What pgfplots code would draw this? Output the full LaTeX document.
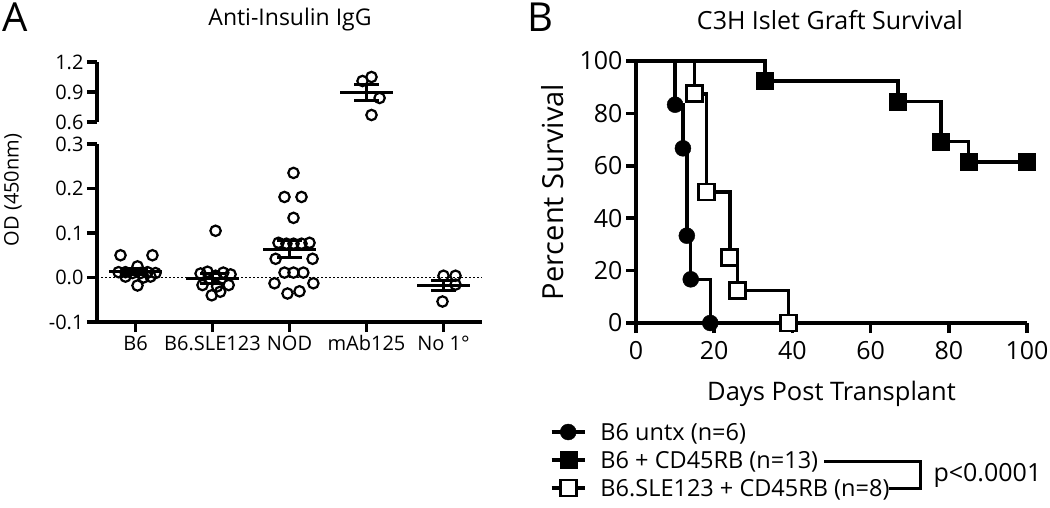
\documentclass[border=0pt]{standalone}
\usepackage{fontspec}
\setmainfont{Open Sans}
\usepackage{pgfplots}
\pgfplotsset{compat=1.18}
\newcommand{\fs}[1]{\fontsize{#1}{#1}\selectfont}
\begin{document}
\begin{tikzpicture}
\useasboundingbox (0pt,0pt) rectangle (1050pt,-508pt);
\pgfplotsset{
  common/.style={
    scale only axis, clip=false,
    axis line style={-, line width=3.5pt, black},
    tick style={line width=3.5pt, black},
    major tick length=10pt, tick align=outside,
    /pgf/number format/assume math mode=true,
  },
  dot/.style={black, only marks, mark=o, mark size=5.2pt, mark options={line width=2.2pt}},
  msem/.style={black, line width=3pt, unbounded coords=jump},
}
% ---------- Panel A, lower part ----------
\begin{axis}[common,
  at={(97pt,-322pt)}, anchor=south west, width=385pt, height=178pt,
  xmin=0.5, xmax=5.5, ymin=-0.1, ymax=0.3,
  axis x line*=bottom, axis y line*=left,
  xtick={1,2,3,4,5}, xticklabels={B6,B6.SLE123,NOD,mAb125,No 1°},
  ytick={-0.1,0,0.1,0.2,0.3}, yticklabels={-0.1,0.0,0.1,0.2,0.3},
  ticklabel style={font=\fs{20}},
]
\addplot[black, line width=1.5pt, dash pattern=on 2pt off 2pt] coordinates {(0.5,0) (5.5,0)};
\addplot[dot] coordinates {(0.805,0.050) (1.22,0.050) (1.026,0.025) (0.78,0.012) (0.87,0.012) (0.96,0.010) (1.065,0.010) (1.156,0.012) (1.26,0.010) (0.87,0.002) (1.104,0.000) (1.195,0.002) (1.026,-0.018)};
\addplot[dot] coordinates {(2.04,0.105) (1.845,0.009) (1.935,0.013) (2.04,0.004) (2.14,0.011) (2.235,0.007) (1.87,-0.017) (2.06,-0.020) (2.21,-0.017) (1.99,-0.040) (2.10,-0.032)};
\addplot[dot] coordinates {(3.052,0.235) (2.935,0.181) (3.156,0.181) (3.052,0.134) (2.857,0.078) (2.96,0.076) (3.052,0.076) (3.156,0.076) (3.26,0.078) (2.82,0.042) (3.30,0.042) (2.935,0.011) (3.052,0.011) (3.18,0.011) (2.805,-0.013) (3.31,-0.013) (2.974,-0.036) (3.13,-0.031)};
\addplot[dot] coordinates {(5.0,0.004) (5.156,0.004) (5.156,-0.016) (4.987,-0.054)};
% mean and SEM
\addplot[msem] coordinates {
 (0.66,0.013) (1.34,0.013) (1,nan) (0.84,0.020) (1.16,0.020) (1,nan) (0.84,0.006) (1.16,0.006) (1,nan) (1,0.006) (1,0.020) (1,nan)
 (1.66,-0.003) (2.34,-0.003) (2,nan) (1.84,0.008) (2.16,0.008) (2,nan) (1.84,-0.014) (2.16,-0.014) (2,nan) (2,-0.014) (2,0.008) (2,nan)
 (2.66,0.064) (3.34,0.064) (3,nan) (2.84,0.083) (3.16,0.083) (3,nan) (2.84,0.045) (3.16,0.045) (3,nan) (3,0.045) (3,0.083) (3,nan)
 (4.66,-0.018) (5.34,-0.018) (5,nan) (4.84,-0.006) (5.16,-0.006) (5,nan) (4.84,-0.030) (5.16,-0.030) (5,nan) (5,-0.030) (5,-0.006)
};
\end{axis}
% ---------- Panel A, upper part ----------
\begin{axis}[common,
  at={(97pt,-122pt)}, anchor=south west, width=385pt, height=60pt,
  xmin=0.5, xmax=5.5, ymin=0.6, ymax=1.2,
  axis y line*=left, axis x line=none,
  xtick=\empty, ytick={0.6,0.9,1.2}, yticklabels={0.6,0.9,1.2},
  ticklabel style={font=\fs{20}},
]
\addplot[dot] coordinates {(4.065,1.05) (3.948,1.01) (4.17,0.84) (4.065,0.67)};
\addplot[msem] coordinates {
 (3.66,0.893) (4.34,0.893) (4,nan) (3.84,0.975) (4.16,0.975) (4,nan) (3.84,0.815) (4.16,0.815) (4,nan) (4,0.815) (4,0.975)
};
\end{axis}
\node[font=\fs{40}] at (15pt,-17pt) {A};
\node[font=\fs{23}] at (290pt,-20pt) {Anti-Insulin IgG};
\node[font=\fs{20}, rotate=90] at (13pt,-190pt) {OD (450nm)};
% ---------- Panel B ----------
\begin{axis}[common,
  at={(636pt,-323pt)}, anchor=south west, width=391pt, height=262pt,
  xmin=0, xmax=100, ymin=0, ymax=100,
  axis x line*=bottom, axis y line*=left,
  xtick={0,20,40,60,80,100}, ytick={0,20,40,60,80,100},
  ticklabel style={font=\fs{25}},
  xticklabel style={yshift=-5pt},
  xlabel={Days Post Transplant}, ylabel={Percent Survival},
  xlabel style={font=\fs{25.5}, yshift=-14pt},
  ylabel style={font=\fs{29}, yshift=9pt},
  legend style={at={(-0.22,-0.376)}, anchor=north west, draw=none, fill=none,
    font=\fs{23.5}, row sep=7pt, inner sep=0pt, outer sep=0pt,
    nodes={inner sep=0pt, text height=19pt, text depth=2pt},
    /tikz/every odd column/.append style={column sep=14pt}},
  legend cell align=left,
  legend image code/.code={%
     \draw[black, line width=3.5pt] (0pt,0pt) -- (33pt,0pt);
     \draw[#1] plot coordinates {(16.5pt,0pt)};},
]
\addplot[black, const plot mark left, line width=3.5pt, forget plot] coordinates {(0,100) (10,83.33) (12,66.67) (13,33.33) (14,16.67) (19,0)};
\addplot[black, only marks, mark=*, mark size=8pt] coordinates {(10,83.33) (12,66.67) (13,33.33) (14,16.67) (19,0)};
\addlegendentry{B6 untx (n=6)}
\addplot[black, const plot mark left, line width=3.5pt, forget plot] coordinates {(0,100) (33,92.31) (67,84.62) (78,69.23) (85,61.54) (100,61.54)};
\addplot[black, only marks, mark=square*, mark size=8.5pt] coordinates {(33,92.31) (67,84.62) (78,69.23) (85,61.54) (100,61.54)};
\addlegendentry{B6 + CD45RB (n=13)}
\addplot[black, const plot mark left, line width=3.5pt, forget plot] coordinates {(0,100) (15,87.5) (18,50) (24,25) (26,12.5) (39,0)};
\addplot[black, only marks, mark=square*, mark size=8pt, mark options={fill=white, line width=2.8pt}] coordinates {(15,87.5) (18,50) (24,25) (26,12.5) (39,0)};
\addlegendentry{B6.SLE123 + CD45RB (n=8)}
\end{axis}
\node[font=\fs{40}] at (540pt,-17pt) {B};
\node[font=\fs{25}] at (830pt,-20pt) {C3H Islet Graft Survival};
\draw[line width=3pt] (824pt,-461pt) -- (920pt,-461pt) -- (920pt,-488pt) -- (889pt,-488pt);
\node[font=\fs{25}, anchor=west] at (930pt,-475pt) {p<0.0001};
\end{tikzpicture}
\end{document}
